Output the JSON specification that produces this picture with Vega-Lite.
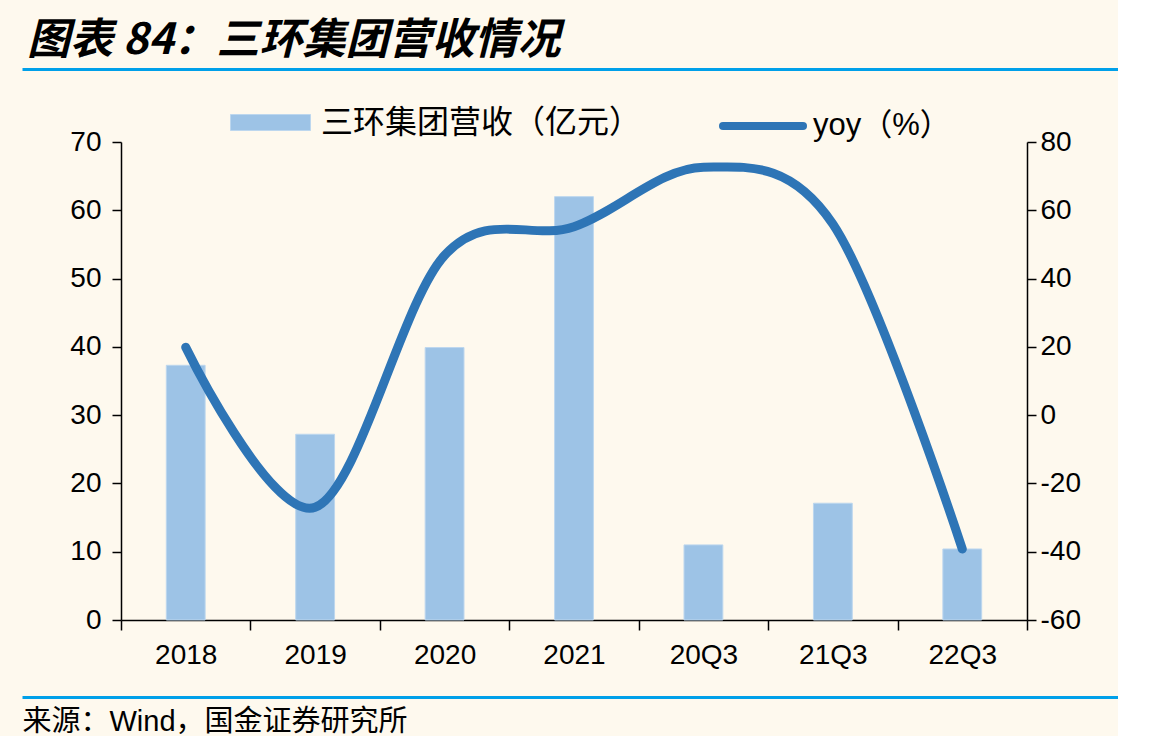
{
  "$schema": "https://vega.github.io/schema/vega-lite/v6.json",
  "background": "#FEF9EE",
  "padding": {"left": 22, "top": 19, "right": 0, "bottom": 0},
  "autosize": {"type": "pad"},
  "bounds": "flush",
  "spacing": 73,
  "config": {
    "view": {"stroke": null},
    "font": "Liberation Sans",
    "axis": {"grid": false, "domainColor": "#000000", "tickColor": "#000000", "labelColor": "#000000", "labelFont": "Liberation Sans", "labelFontSize": 28, "domainWidth": 1.5, "tickWidth": 1.5}
  },
  "datasets": {
    "main": [
      {"period": "2018", "revenue": 37.3, "yoy": 19.9},
      {"period": "2019", "revenue": 27.2, "yoy": -27.0},
      {"period": "2020", "revenue": 39.9, "yoy": 46.8},
      {"period": "2021", "revenue": 62.0, "yoy": 55.2},
      {"period": "20Q3", "revenue": 11.0, "yoy": 72.6},
      {"period": "21Q3", "revenue": 17.1, "yoy": 56.0},
      {"period": "22Q3", "revenue": 10.4, "yoy": -39.2}
    ]
  },
  "vconcat": [
    {
      "data": {"name": "main"},
      "width": 1096,
      "height": 1,
      "title": {"text": "图表 84：三环集团营收情况", "anchor": "start", "font": "Noto Sans CJK SC", "fontSize": 43, "fontWeight": "bold", "fontStyle": "italic", "color": "#000000", "baseline": "bottom", "offset": -40, "dx": 5},
      "mark": {"type": "point", "opacity": 0},
      "encoding": {
        "x": {"field": "revenue", "type": "quantitative", "axis": {"domainColor": "#00A0E9", "domainWidth": 3, "ticks": false, "labels": false, "title": null}}
      }
    },
    {
      "data": {"name": "main"},
      "width": 1096,
      "height": 478,
      "layer": [
        {
          "mark": {"type": "bar", "stroke": "#BDD7EE", "strokeWidth": 1, "width": {"band": 0.3}},
          "encoding": {
            "x": {"field": "period", "type": "nominal", "sort": null,
              "scale": {"range": [99, 1005], "paddingInner": 0, "paddingOuter": 0},
              "axis": {"title": null, "labelAngle": 0, "tickBand": "extent", "tickSize": 10, "labelPadding": 11}},
            "y": {"field": "revenue", "type": "quantitative",
              "scale": {"domain": [0, 70], "nice": false},
              "axis": {"orient": "left", "offset": -99, "values": [0, 10, 20, 30, 40, 50, 60, 70], "title": null, "tickSize": 9, "labelPadding": 11}},
            "fill": {"datum": "三环集团营收（亿元）", "type": "nominal", "scale": {"range": ["#9DC3E6"]},
              "legend": {"orient": "none", "legendX": 208, "legendY": 14, "title": null, "padding": 0,
                "symbolType": "M-1,-0.2H1V0.2H-1Z", "symbolSize": 6400, "symbolStrokeColor": "#BDD7EE", "symbolStrokeWidth": 1, "symbolOpacity": 1,
                "labelFont": "Noto Sans CJK SC", "labelFontSize": 32, "labelColor": "#000000", "labelOffset": 10, "labelLimit": 500}}
          }
        },
        {
          "mark": {"type": "line", "interpolate": "cardinal", "strokeWidth": 9, "strokeCap": "round"},
          "encoding": {
            "x": {"field": "period", "type": "nominal", "sort": null},
            "y": {"field": "yoy", "type": "quantitative",
              "scale": {"domain": [-60, 80], "nice": false},
              "axis": {"orient": "right", "offset": -91, "values": [-60, -40, -20, 0, 20, 40, 60, 80], "title": null, "tickSize": 9, "labelPadding": 4, "labelExpr": "'' + datum.value"}},
            "stroke": {"datum": "yoy（%）", "type": "nominal", "scale": {"range": ["#2E75B6"]},
              "legend": {"orient": "none", "legendX": 697, "legendY": 14, "title": null, "padding": 0,
                "symbolType": "stroke", "symbolSize": 6400, "symbolStrokeWidth": 8, "symbolOpacity": 1,
                "labelFont": "Liberation Sans, Noto Sans CJK SC", "labelFontSize": 31, "labelColor": "#000000", "labelOffset": 6, "labelLimit": 500,
                "encode": {"symbols": {"update": {"strokeCap": {"value": "round"}}}}}}
          }
        }
      ],
      "resolve": {"scale": {"y": "independent"}}
    },
    {
      "data": {"name": "main"},
      "width": 1096,
      "height": 4,
      "mark": {"type": "point", "opacity": 0},
      "encoding": {
        "x": {"field": "revenue", "type": "quantitative",
          "axis": {"domainColor": "#00A0E9", "domainWidth": 3, "ticks": false, "labels": false,
            "title": "来源：Wind，国金证券研究所", "titleAnchor": "start", "titleAlign": "left", "titleBaseline": "top",
            "titleFont": "Liberation Sans, Noto Sans CJK SC", "titleFontSize": 29, "titleFontWeight": "normal", "titleColor": "#000000", "titlePadding": 10}}
      }
    }
  ]
}
